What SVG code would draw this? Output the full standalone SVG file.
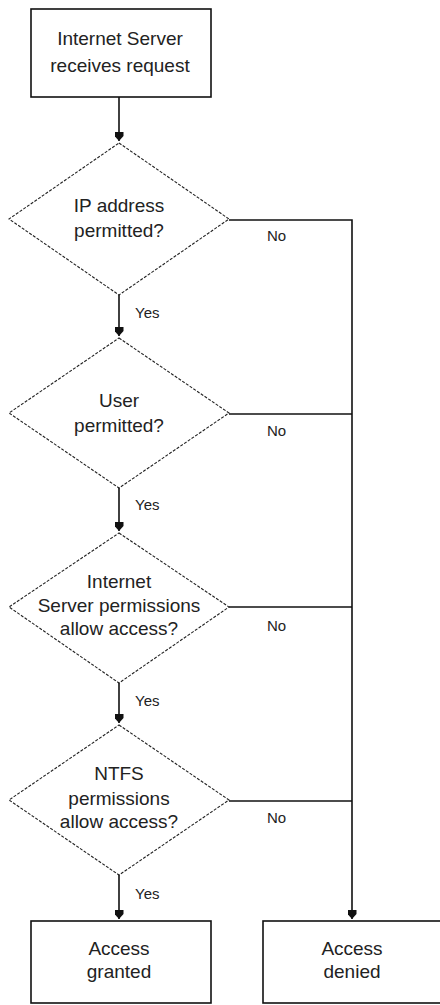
<svg xmlns="http://www.w3.org/2000/svg" width="440" height="1005" viewBox="0 0 440 1005">
  <style>
    .box { fill: #fff; stroke: #111; stroke-width: 1.6; }
    .dia { fill: #fff; stroke: #222; stroke-width: 1.1; stroke-dasharray: 3 1.5; }
    .txt { font-family: "Liberation Sans", Arial, sans-serif; font-size: 19px; fill: #222; text-anchor: middle; }
    .lbl { font-family: "Liberation Sans", Arial, sans-serif; font-size: 15px; fill: #222; }
    .con { fill: none; stroke: #111; stroke-width: 1.6; }
  </style>
  <defs>
    <marker id="ah" viewBox="0 0 9 9" refX="4.5" refY="9" markerWidth="9" markerHeight="9" markerUnits="userSpaceOnUse" orient="0">
      <path d="M0,0 L9,0 L9,4 L4.5,9 L0,4 Z" fill="#111"/>
    </marker>
  </defs>

  <g id="connectors">
    <line class="con" x1="119" y1="97" x2="119" y2="141" marker-end="url(#ah)"/>
    <line class="con" x1="119" y1="295" x2="119" y2="336" marker-end="url(#ah)"/>
    <line class="con" x1="119" y1="488" x2="119" y2="531" marker-end="url(#ah)"/>
    <line class="con" x1="119" y1="683" x2="119" y2="723" marker-end="url(#ah)"/>
    <line class="con" x1="119" y1="875" x2="119" y2="919" marker-end="url(#ah)"/>
    <polyline class="con" points="229,220 352,220 352,919" marker-end="url(#ah)"/>
    <line class="con" x1="229" y1="414" x2="352" y2="414"/>
    <line class="con" x1="229" y1="607" x2="352" y2="607"/>
    <line class="con" x1="229" y1="801" x2="352" y2="801"/>
    <text class="lbl" x="135" y="318">Yes</text>
    <text class="lbl" x="135" y="510">Yes</text>
    <text class="lbl" x="135" y="706">Yes</text>
    <text class="lbl" x="135" y="899">Yes</text>
    <text class="lbl" x="267" y="241">No</text>
    <text class="lbl" x="267" y="436">No</text>
    <text class="lbl" x="267" y="631">No</text>
    <text class="lbl" x="267" y="823">No</text>
  </g>

  <g id="start">
    <rect class="box" x="31" y="9" width="180" height="88"/>
    <text class="txt" x="120" y="45">Internet Server</text>
    <text class="txt" x="120" y="72">receives request</text>
  </g>

  <g id="ip">
    <polygon class="dia" points="119,143 229,219 119,295 9,219"/>
    <text class="txt" x="119" y="212">IP address</text>
    <text class="txt" x="119" y="237">permitted?</text>
  </g>

  <g id="user">
    <polygon class="dia" points="119,338 229,413 119,488 9,413"/>
    <text class="txt" x="119" y="407">User</text>
    <text class="txt" x="119" y="432">permitted?</text>
  </g>

  <g id="isperm">
    <polygon class="dia" points="119,533 229,607 119,683 9,607"/>
    <text class="txt" x="119" y="588">Internet</text>
    <text class="txt" x="119" y="612">Server permissions</text>
    <text class="txt" x="119" y="635">allow access?</text>
  </g>

  <g id="ntfs">
    <polygon class="dia" points="119,725 229,800 119,875 9,800"/>
    <text class="txt" x="119" y="780">NTFS</text>
    <text class="txt" x="119" y="805">permissions</text>
    <text class="txt" x="119" y="828">allow access?</text>
  </g>

  <g id="granted">
    <rect class="box" x="31" y="921" width="180" height="82"/>
    <text class="txt" x="119" y="955">Access</text>
    <text class="txt" x="119" y="978">granted</text>
  </g>

  <g id="denied">
    <rect class="box" x="263" y="921" width="186" height="82"/>
    <text class="txt" x="352" y="955">Access</text>
    <text class="txt" x="352" y="978">denied</text>
  </g>
</svg>
